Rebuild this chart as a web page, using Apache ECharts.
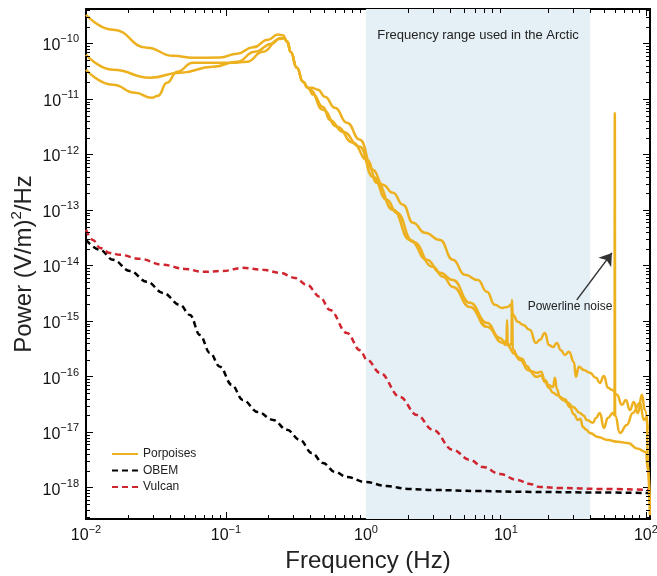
<!DOCTYPE html>
<html><head><meta charset="utf-8">
<script src="https://cdn.jsdelivr.net/npm/echarts@6/dist/echarts.min.js"></script>
<style>html,body{margin:0;padding:0;background:#fff}#c{width:657px;height:576px}</style>
</head><body><div id="c"></div>
<script>
// ---- data (frequency Hz, power (V/m)^2/Hz) ----
const porpoiseA = [[0.01,3.29e-10],[0.0156,1.77e-10],[0.0273,8.4e-11],[0.0418,6.0e-11],[0.0581,5.5e-11],[0.0906,5.6e-11],[0.12,6.5e-11],[0.156,8.5e-11],[0.2,1.17e-10],[0.235,1.45e-10],[0.255,1.4e-10],[0.272,1.1e-10],[0.29,7.0e-11],[0.321,3.65e-11],[0.355,2.04e-11],[0.385,1.59e-11],[0.411,1.59e-11],[0.454,1.47e-11],[0.509,1.1e-11],[0.601,6.95e-12],[0.732,3.73e-12],[0.906,1.84e-12],[1.12,5.3e-13],[1.32,2.84e-13],[1.56,2.04e-13],[1.84,1.24e-13],[2.17,5.9e-14],[2.64,3.9e-14],[3.38,2.9e-14],[4.18,1.27e-14],[5.09,6.8e-15],[6.31,5.5e-15],[7.31,3.36e-15],[8.34,1.96e-15],[9.36,1.73e-15],[10.3,1.8e-15],[10.9,2.0e-15],[11.2,1.3e-15],[12.2,9.7e-16],[13.2,8.6e-16],[14.8,6.95e-16],[16.4,4.05e-16],[17.5,4.6e-16],[19.0,6.1e-16],[20.3,3.7e-16],[21.7,3.4e-16],[23.1,4.05e-16],[24.7,3.0e-16],[26.4,2.46e-16],[28.2,2.8e-16],[30.6,1.84e-16],[31.6,9.9e-17],[33.2,1.5e-16],[36.0,1.32e-16],[39.8,1.17e-16],[44.0,9.5e-17],[46.9,7.7e-17],[50.1,1.03e-16],[53.6,6.3e-17],[57.2,5.8e-17],[62.1,4.7e-17],[67.4,3.1e-17],[72.0,3.8e-17],[76.9,2.5e-17],[82.0,3.5e-17],[87.7,2.2e-17],[93.6,4.7e-17],[98.4,2.5e-17],[103,1.1e-17]];
const porpoiseB = [[0.01,6.25e-11],[0.0156,3.36e-11],[0.0287,2.41e-11],[0.0469,2.96e-11],[0.0807,3.8e-11],[0.12,4.68e-11],[0.161,7.1e-11],[0.213,9.9e-11],[0.245,1.25e-10],[0.262,1.22e-10],[0.275,1.05e-10],[0.29,7.0e-11],[0.321,3.65e-11],[0.355,2.04e-11],[0.385,1.59e-11],[0.398,1.47e-11],[0.493,6.4e-12],[0.621,3.15e-12],[0.807,1.63e-12],[1.02,8.0e-13],[1.2,3.09e-13],[1.56,1.01e-13],[2.06,2.9e-14],[2.73,1.27e-14],[3.38,7.4e-15],[4.18,5.5e-15],[5.53,2.13e-15],[7.31,9.3e-16],[9.06,4.98e-16],[9.84,4.2e-16],[10.7,3.72e-16],[10.95,4.0e-16],[11.05,2.41e-15],[11.2,3.2e-16],[11.4,3.0e-16],[12.0,2.26e-16],[13.0,2.1e-16],[14.1,1.56e-16],[15.2,1.25e-16],[16.6,1.17e-16],[17.8,1.22e-16],[19.0,8.7e-17],[20.3,7.0e-17],[21.7,6.5e-17],[22.4,9.5e-17],[23.1,6.0e-17],[24.3,4.3e-17],[26.4,3.9e-17],[28.6,2.84e-17],[30.6,2.1e-17],[32.7,1.66e-17],[34.0,1.75e-17],[35.5,1.24e-17],[37.5,1.1e-17],[39.8,9.7e-18],[45.4,8.2e-18],[53.5,7.2e-18],[63.1,6.7e-18],[74.3,6.4e-18],[87.7,5.0e-18],[100,4.4e-18],[103.4,2.08e-18],[106.8,3.2e-19]];
const porpoiseC = [[0.01,3.36e-11],[0.0156,1.8e-11],[0.0224,1.29e-11],[0.0296,1.05e-11],[0.0327,1.14e-11],[0.0379,1.96e-11],[0.0447,3.09e-11],[0.0581,4.49e-11],[0.0807,4.49e-11],[0.112,4.49e-11],[0.141,4.68e-11],[0.184,7.1e-11],[0.24,1.2e-10],[0.26,1.25e-10],[0.275,1.08e-10],[0.29,7.0e-11],[0.321,3.65e-11],[0.355,2.04e-11],[0.385,1.59e-11],[0.42,1.2e-11],[0.493,7.2e-12],[0.553,4.2e-12],[0.685,2.56e-12],[0.906,1.38e-12],[1.12,3.96e-13],[1.41,1.53e-13],[1.66,8.9e-14],[2.17,2.67e-14],[3.01,9.5e-15],[3.55,6.3e-15],[4.18,4.13e-15],[5.53,1.8e-15],[7.31,7.9e-16],[9.5,4.05e-16],[10.0,3.72e-16],[10.1,5e-16],[10.2,1.05e-15],[10.3,3.6e-16],[11.5,2.6e-16],[12.6,2.0e-16],[14.5,1.3e-16],[16.6,9.9e-17],[17.8,1.05e-16],[19.0,8.0e-17],[20.3,6.3e-17],[21.7,5.1e-17],[23.5,4.6e-17],[25.5,3.8e-17],[27.8,3.4e-17],[30.1,2.84e-17],[33.8,2.22e-17],[35.8,2.0e-17],[37.9,1.66e-17],[41.8,1.47e-17],[44.0,1.8e-17],[46.9,2.22e-17],[50.1,1.19e-17],[53.5,1.8e-17],[58.1,2.22e-17],[59.7,2.0e-17],[60,5.6e-12],[60.3,2.0e-17],[65.2,9.7e-18],[73.1,1.35e-17],[80.7,2.22e-17],[90.6,3.36e-17],[96.8,1.66e-17],[101.6,1.88e-17],[103.3,2.8e-18],[106.8,4.9e-19]];
const obem = [[0.01,2.9e-14],[0.0126,1.92e-14],[0.0156,1.27e-14],[0.0206,8.0e-15],[0.0273,5.1e-15],[0.0355,3.22e-15],[0.0469,1.96e-15],[0.0553,1.29e-15],[0.0652,5.6e-16],[0.0769,2.67e-16],[0.0906,1.5e-16],[0.11,7.1e-17],[0.132,3.8e-17],[0.169,2.31e-17],[0.217,1.66e-17],[0.273,1.1e-17],[0.338,7.2e-18],[0.411,4.2e-18],[0.493,2.79e-18],[0.601,1.92e-18],[0.732,1.56e-18],[0.984,1.27e-18],[1.41,1.07e-18],[2.0,9.5e-19],[3.01,9.1e-19],[6.31,8.7e-19],[15.1,8.4e-19],[46.9,8.2e-19],[107,8.0e-19]];
const vulcan = [[0.01,4.4e-14],[0.0112,2.9e-14],[0.0126,2.08e-14],[0.0148,1.69e-14],[0.0175,1.56e-14],[0.0243,1.32e-14],[0.0355,1.03e-14],[0.0509,8.7e-15],[0.0685,7.7e-15],[0.0953,8.0e-15],[0.132,9.1e-15],[0.184,8.4e-15],[0.243,7.4e-15],[0.311,6.0e-15],[0.379,4.49e-15],[0.469,2.73e-15],[0.553,1.59e-15],[0.732,6.1e-16],[0.906,3.0e-16],[1.02,2.0e-16],[1.26,1.17e-16],[1.75,4.3e-17],[2.31,2.04e-17],[3.01,1.1e-17],[4.18,4.8e-18],[5.53,3.16e-18],[6.86,2.36e-18],[9.06,1.77e-18],[12.0,1.38e-18],[14.8,1.17e-18],[17.5,1.03e-18],[24.3,9.9e-19],[46.9,9.5e-19],[107,9.1e-19]];
const arcticBand = [1, 40];
const powerlineArrow = [[32.1, 2.41e-15], [57.2, 1.69e-14]];
const powerlineLabel = [28.7, 1.8e-15];
const xTickExps = [-2, -1, 0, 1, 2];
const yTickExps = [-18, -17, -16, -15, -14, -13, -12, -11, -10];
const minorMults = [2, 3, 4, 5, 6, 7, 8, 9];
const xRange = [0.01, 107];
const yRange = [2.73e-19, 4.17e-10];

const FONT = "'Liberation Sans', Arial, Helvetica, sans-serif";
const ORANGE = '#EDB120', RED = '#D0242F', BLACK = '#000';

function fmtFactory(exps) {
  return function (v) {
    const l = Math.log10(v), e = Math.round(l);
    if (Math.abs(l - e) > 1e-6 || exps.indexOf(e) < 0) return '';
    return '{b|10}{s|' + (e < 0 ? '\u2212' : '') + Math.abs(e) + '}';
  };
}
const tickRich = {
  b: { fontSize: 16, lineHeight: 24, fontFamily: FONT, color: '#111' },
  s: { fontSize: 11, lineHeight: 11, verticalAlign: 'top', fontFamily: FONT, color: '#111' }
};

const xMinor = [], yMinor = [];
for (let e = -2; e <= 2; e++) minorMults.forEach(m => { const v = m * Math.pow(10, e); if (v > xRange[0] && v < xRange[1]) xMinor.push([v, 1e-14]); });
for (let e = -19; e <= -10; e++) minorMults.forEach(m => { const v = m * Math.pow(10, e); if (v > yRange[0] && v < yRange[1]) yMinor.push([1, v]); });

function minorX(params, api) {
  const cs = params.coordSys;
  const x = Math.round(api.coord([api.value(0), api.value(1)])[0]) + 0.5;
  const st = { stroke: '#000', lineWidth: 1 };
  return { type: 'group', children: [
    { type: 'line', shape: { x1: x, y1: cs.y + cs.height, x2: x, y2: cs.y + cs.height - 4 }, style: st },
    { type: 'line', shape: { x1: x, y1: cs.y, x2: x, y2: cs.y + 4 }, style: st }
  ]};
}
function minorY(params, api) {
  const cs = params.coordSys;
  const y = Math.round(api.coord([api.value(0), api.value(1)])[1]) + 0.5;
  const st = { stroke: '#000', lineWidth: 1 };
  return { type: 'group', children: [
    { type: 'line', shape: { x1: cs.x, y1: y, x2: cs.x + 4, y2: y }, style: st },
    { type: 'line', shape: { x1: cs.x + cs.width, y1: y, x2: cs.x + cs.width - 4, y2: y }, style: st }
  ]};
}

const axisCommon = {
  type: 'log', logBase: 10,
  axisLine: { show: true, onZero: false, lineStyle: { color: '#000', width: 2 } },
  axisTick: { show: true, inside: true, length: 7, lineStyle: { color: '#000', width: 1 } },
  splitLine: { show: false }, minorTick: { show: false }
};

const porpStyle = { color: ORANGE, width: 2.5, join: 'round' };
const chart = echarts.init(document.getElementById('c'), null, { renderer: 'canvas' });
chart.setOption({
  animation: false,
  backgroundColor: '#fff',
  textStyle: { fontFamily: FONT },
  grid: { left: 86, right: 7, top: 9, bottom: 57, containLabel: false, outerBoundsMode: 'none' },
  legend: {
    orient: 'vertical', left: 111, top: 448, padding: 0, itemWidth: 26, itemHeight: 14, itemGap: 4.5,
    textStyle: { fontSize: 12, color: '#222', fontFamily: FONT },
    itemStyle: { color: 'rgba(0,0,0,0)', borderColor: 'rgba(0,0,0,0)', borderWidth: 0, opacity: 0 },
    data: ['Porpoises', 'OBEM', 'Vulcan']
  },
  xAxis: [
    Object.assign({}, axisCommon, {
      position: 'bottom', min: xRange[0], max: xRange[1], splitNumber: 4,
      name: 'Frequency (Hz)', nameLocation: 'middle', nameGap: 30, nameMoveOverlap: false,
      nameTextStyle: { fontSize: 24, color: '#222', fontFamily: FONT },
      axisLabel: { show: true, margin: 5, formatter: fmtFactory(xTickExps), rich: tickRich, showMinLabel: true, showMaxLabel: true }
    }),
    Object.assign({}, axisCommon, {
      position: 'top', min: xRange[0], max: xRange[1], splitNumber: 4, axisLabel: { show: false }
    })
  ],
  yAxis: [
    Object.assign({}, axisCommon, {
      position: 'left', min: yRange[0], max: yRange[1], splitNumber: 10,
      name: 'Power (V/m){s|2}/Hz', nameLocation: 'middle', nameGap: 47, nameMoveOverlap: false,
      nameTextStyle: { fontSize: 24, lineHeight: 30, color: '#222', fontFamily: FONT,
        rich: { s: { fontSize: 15, lineHeight: 15, verticalAlign: 'top', color: '#222', fontFamily: FONT } } },
      axisLabel: { show: true, margin: 7, padding: [5, 0, 0, 0], formatter: fmtFactory(yTickExps), rich: tickRich }
    }),
    Object.assign({}, axisCommon, {
      position: 'right', min: yRange[0], max: yRange[1], splitNumber: 10, axisLabel: { show: false }
    })
  ],
  series: [
    {
      name: 'OBEM', type: 'line', data: obem, showSymbol: false, symbol: 'none', smooth: 0.4, smoothMonotone: 'x',
      lineStyle: { color: BLACK, width: 2.5, type: [6, 4] }, itemStyle: { color: BLACK }, z: 3,
      markArea: {
        silent: true, itemStyle: { color: '#E4EFF6' },
        label: { show: true, position: 'insideTop', distance: 20, color: '#222', fontSize: 13, fontFamily: FONT },
        data: [[{ xAxis: arcticBand[0], name: 'Frequency range used in the Arctic' }, { xAxis: arcticBand[1] }]]
      }
    },
    {
      name: 'Vulcan', type: 'line', data: vulcan, showSymbol: false, symbol: 'none', smooth: 0.4, smoothMonotone: 'x',
      lineStyle: { color: RED, width: 2.5, type: [6, 4] }, itemStyle: { color: RED }, z: 3
    },
    {
      name: 'Porpoises', type: 'line', data: porpoiseC, showSymbol: false, symbol: 'none', smooth: 0.5, smoothMonotone: 'x',
      lineStyle: porpStyle, itemStyle: { color: ORANGE }, z: 4,
      markLine: {
        silent: true, symbol: ['none', 'arrow'], symbolSize: 12,
        lineStyle: { color: '#333', width: 1.5, type: 'solid' }, label: { show: false },
        data: [[{ coord: powerlineArrow[0] }, { coord: powerlineArrow[1] }]]
      },
      markPoint: {
        silent: true, symbol: 'rect', symbolSize: 1, itemStyle: { color: 'rgba(0,0,0,0)' },
        label: { show: true, position: 'inside', color: '#222', fontSize: 12, fontFamily: FONT, formatter: 'Powerline noise' },
        data: [{ coord: powerlineLabel }]
      }
    },
    {
      name: 'Porpoises', type: 'line', data: porpoiseB, showSymbol: false, symbol: 'none', smooth: 0.5, smoothMonotone: 'x',
      lineStyle: porpStyle, itemStyle: { color: ORANGE }, z: 4
    },
    {
      name: 'Porpoises', type: 'line', data: porpoiseA, showSymbol: false, symbol: 'none', smooth: 0.5, smoothMonotone: 'x',
      lineStyle: porpStyle, itemStyle: { color: ORANGE }, z: 4
    },
    { name: 'xminor', type: 'custom', renderItem: minorX, data: xMinor, clip: false, silent: true, z: 6, xAxisIndex: 0, yAxisIndex: 0 },
    { name: 'yminor', type: 'custom', renderItem: minorY, data: yMinor, clip: false, silent: true, z: 6, xAxisIndex: 0, yAxisIndex: 0 }
  ]
});
</script>
</body></html>
